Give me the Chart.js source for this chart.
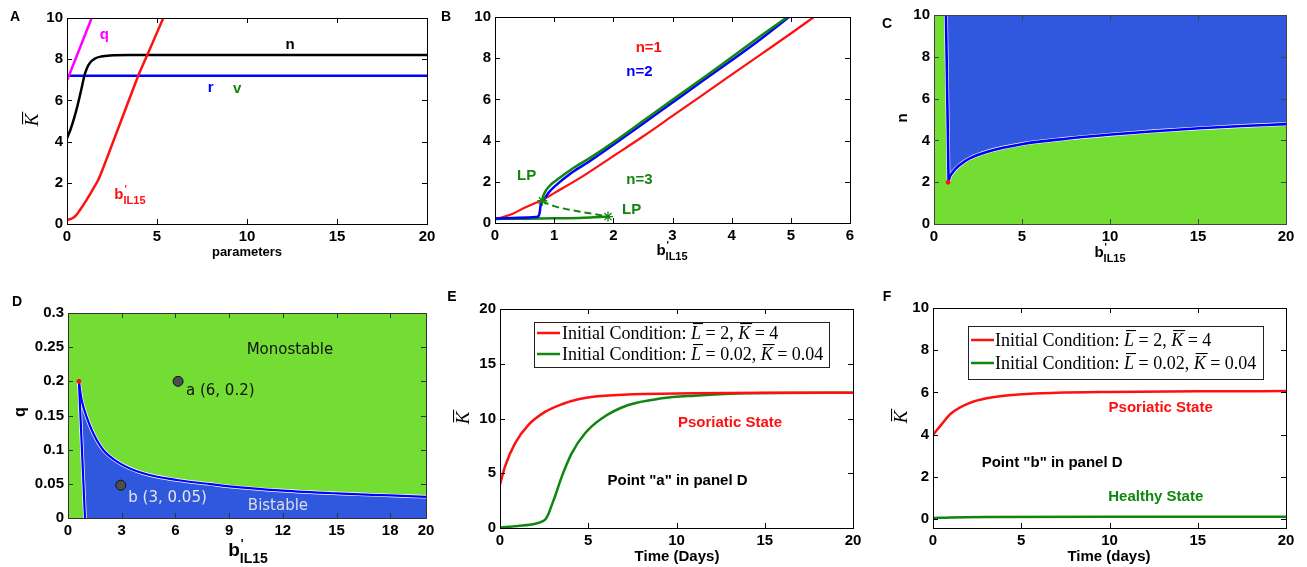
<!DOCTYPE html>
<html lang="en">
<head>
    <meta charset="UTF-8">
    <title>IL15 bifurcation panels</title>
    <script src="https://cdn.jsdelivr.net/npm/chart.js"></script>
    <style>
        html, body { margin: 0; padding: 0; background: #fff; }
        #wrap { position: relative; width: 1307px; height: 567px; overflow: hidden; }
        canvas { position: absolute; }
    </style>
</head>
<body>
<div id="wrap">
    <canvas id="pA"></canvas>
    <canvas id="pB"></canvas>
    <canvas id="pC"></canvas>
    <canvas id="pD"></canvas>
    <canvas id="pE"></canvas>
    <canvas id="pF"></canvas>
</div>

<script>
// ---- panel A : K vs parameters
const aQx = [0.02, 1.37];
const aQy = [7.0, 10];
const aNx = [0, 0.2, 0.4, 0.6, 0.8, 0.95, 1.1, 1.3, 1.55, 1.9, 2.4, 3.5, 20];
const aNy = [4.16, 4.6, 5.15, 5.8, 6.55, 7.15, 7.55, 7.85, 8.03, 8.13, 8.18, 8.2, 8.2];
const aRx = [0, 20];
const aRy = [7.2, 7.2];
const aBx = [0, 0.3, 0.5, 0.72, 1.0, 1.2, 1.46, 1.74, 2.0, 2.39, 3.0, 3.5, 3.96, 4.46, 5.35];
const aBy = [0.19, 0.28, 0.42, 0.68, 1.05, 1.33, 1.72, 2.15, 2.7, 3.59, 5.0, 6.15, 7.2, 8.2, 10];
const aTicksX = [0, 5, 10, 15, 20];
const aTicksY = [0, 2, 4, 6, 8, 10];

// ---- panel B : K vs b'IL15 for n = 1, 2, 3
const bRx = [0, 0.15, 0.3, 0.5, 0.7, 0.82, 1.0, 1.5, 2.0, 2.5, 3.0, 3.5, 4.0, 4.5, 5.0, 5.39];
const bRy = [0.2, 0.3, 0.45, 0.74, 0.99, 1.15, 1.45, 2.3, 3.25, 4.2, 5.2, 6.2, 7.2, 8.2, 9.2, 10];
const bBx = [0, 0.4, 0.7, 0.74, 0.76, 0.77, 0.79, 0.83, 0.9, 1.0, 1.3, 1.6, 2.0, 2.5, 3.0, 3.5, 4.0, 4.5, 4.97];
const bBy = [0.22, 0.26, 0.29, 0.35, 0.6, 0.85, 1.0, 1.15, 1.45, 1.75, 2.45, 3.0, 3.8, 4.82, 5.85, 6.88, 7.9, 8.95, 10];
const bGx = [0.8, 0.82, 0.87, 0.95, 1.05, 1.3, 1.6, 2.0, 2.5, 3.0, 3.5, 4.0, 4.5, 4.94];
const bGy = [1.1, 1.35, 1.62, 1.88, 2.1, 2.62, 3.15, 3.92, 4.95, 5.98, 7.0, 8.05, 9.1, 10];
const bGlowx = [0, 0.5, 1.0, 1.5, 1.91];
const bGlowy = [0.2, 0.21, 0.23, 0.26, 0.31];
const bGdashx = [0.8, 0.9, 1.0, 1.15, 1.3, 1.6, 1.91];
const bGdashy = [1.08, 0.92, 0.82, 0.71, 0.62, 0.47, 0.31];
const bLPx = [0.8, 1.91];
const bLPy = [1.08, 0.31];
const bTicksX = [0, 1, 2, 3, 4, 5, 6];
const bTicksY = [0, 2, 4, 6, 8, 10];

// ---- panel C : n vs b'IL15 region
const cVx = [0.68, 0.83];
const cVy = [10, 2.01];
const cCx = [0.83, 0.87, 1.02, 1.5, 2.03, 3.03, 5.04, 7.5, 10.06, 12.5, 15.06, 17.5, 20];
const cCy = [2.01, 2.19, 2.43, 2.85, 3.14, 3.46, 3.83, 4.08, 4.28, 4.44, 4.58, 4.69, 4.78];
const cDotx = [0.8];
const cDoty = [2.0];
const cTicksX = [0, 5, 10, 15, 20];
const cTicksY = [0, 2, 4, 6, 8, 10];

// ---- panel D : q vs b'IL15 region
const dCx = [0.61, 0.76, 1.04, 1.41, 1.97, 2.9, 4.2, 6.07, 7.93, 9, 12, 15, 18, 20];
const dCy = [0.199, 0.173, 0.148, 0.124, 0.0996, 0.080, 0.0654, 0.0556, 0.0497, 0.0462, 0.040, 0.036, 0.033, 0.031];
const dLx = [0.61, 0.95];
const dLy = [0.2, 0];
const dPx = [6.15, 2.95];
const dPy = [0.2, 0.048];
const dDotx = [0.61];
const dDoty = [0.2];
const dTicksX = [0, 3, 6, 9, 12, 15, 18, 20];
const dTicksY = [0, 0.05, 0.1, 0.15, 0.2, 0.25, 0.3];

// ---- panel E : time course at point a
const eRx = [0, 0.28, 0.85, 1.6, 2.55, 3.5, 4.44, 5.38, 7.27, 11.0, 15, 20];
const eRy = [3.95, 5.6, 7.73, 9.4, 10.6, 11.3, 11.75, 12.0, 12.2, 12.3, 12.35, 12.35];
const eGx = [0, 1.0, 2.0, 2.4, 2.6, 2.75, 2.9, 3.12, 3.5, 4.06, 4.82, 5.76, 7.27, 9.16, 11, 14, 20];
const eGy = [0.04, 0.18, 0.38, 0.6, 0.85, 1.3, 1.95, 2.9, 4.69, 6.82, 8.65, 10.0, 11.23, 11.84, 12.08, 12.3, 12.35];
const eTicksX = [0, 5, 10, 15, 20];
const eTicksY = [0, 5, 10, 15, 20];

// ---- panel F : time course at point b
const fRx = [0, 0.53, 1.02, 2.02, 3.04, 5.02, 7, 10, 15, 20];
const fRy = [3.98, 4.53, 5.0, 5.48, 5.72, 5.91, 5.98, 6.02, 6.05, 6.06];
const fGx = [0, 1, 3, 10, 20];
const fGy = [0.04, 0.07, 0.09, 0.1, 0.1];
const fTicksX = [0, 5, 10, 15, 20];
const fTicksY = [0, 2, 4, 6, 8, 10];

const legendRed = ['Initial Condition: ', 'L', ' = 2, ', 'K', ' = 4'];
const legendGreen = ['Initial Condition: ', 'L', ' = 0.02, ', 'K', ' = 0.04'];

const SANS = '"Liberation Sans", Arial, sans-serif';
const SERIF = '"Liberation Serif", "DejaVu Serif", serif';
const DJ = '"DejaVu Sans", sans-serif';
const RED = '#ff1010', BLUE = '#0000ff', GREEN = '#108510', MAG = '#ff00ff';
const FILLG = '#73dd33', FILLB = '#3058de';

function pts(xs, ys) { return xs.map((x, i) => ({ x: x, y: ys[i] })); }
function line(xs, ys, color, w, more) {
    return Object.assign({ data: pts(xs, ys), borderColor: color, borderWidth: w, pointRadius: 0,
        fill: false, tension: 0 }, more || {});
}
const smooth = { cubicInterpolationMode: 'monotone' };

function rich(c, x, y, parts, color, align) {
    let w = 0;
    parts.forEach(p => { c.font = p.f; if (p.adv !== false) w += c.measureText(p.t).width; });
    let cx = align === 'center' ? x - w / 2 : x;
    c.fillStyle = color; c.textAlign = 'left'; c.textBaseline = 'alphabetic';
    parts.forEach(p => {
        c.font = p.f;
        const m = c.measureText(p.t);
        c.fillText(p.t, cx + (p.dx || 0), y + (p.dy || 0));
        if (p.over) c.fillRect(cx + (p.ox || 0), y - m.actualBoundingBoxAscent - 3, m.width, 1.1);
        if (p.adv !== false) cx += m.width;
    });
}
function bLab(s) {
    return [{ t: 'b', f: 'bold ' + s + 'px ' + SANS },
        { t: '\'', f: 'bold ' + Math.round(s * 0.65) + 'px ' + SANS, dy: -s * 0.42, dx: 1, adv: false },
        { t: 'IL15', f: 'bold ' + Math.round(s * 0.72) + 'px ' + SANS, dy: s * 0.35 }];
}
function kBar(s) { return [{ t: 'K', f: 'italic ' + s + 'px ' + SERIF, over: true, ox: 2 }]; }
function legParts(words) {
    return words.map((t, i) => (i % 2 === 1)
        ? { t: t, f: 'italic 18px ' + SERIF, over: true, ox: 2 }
        : { t: t, f: '18px ' + SERIF });
}

function deco(cfg, box) {
    const put = (c, o, fn) => {
        c.save();
        c.translate(o.x - box[0], o.y - box[1]);
        if (o.rot) c.rotate(-Math.PI / 2);
        fn();
        c.restore();
    };
    return {
        id: 'deco',
        beforeDatasetsDraw(chart) {
            if (!cfg.bg) return;
            const a = chart.chartArea, c = chart.ctx;
            c.save(); c.fillStyle = cfg.bg;
            c.fillRect(a.left, a.top, a.right - a.left, a.bottom - a.top);
            c.restore();
        },
        afterDatasetsDraw(chart) {
            const c = chart.ctx, a = chart.chartArea, sx = chart.scales.x, sy = chart.scales.y;
            c.save();
            c.strokeStyle = cfg.frame || '#000'; c.lineWidth = 1;
            c.beginPath();
            sx.ticks.forEach(t => {
                const p = Math.round(sx.getPixelForValue(t.value)) + 0.5;
                c.moveTo(p, a.bottom); c.lineTo(p, a.bottom - 5);
                c.moveTo(p, a.top); c.lineTo(p, a.top + 5);
            });
            sy.ticks.forEach(t => {
                const p = Math.round(sy.getPixelForValue(t.value)) + 0.5;
                c.moveTo(a.left, p); c.lineTo(a.left + 5, p);
                c.moveTo(a.right, p); c.lineTo(a.right - 5, p);
            });
            c.stroke();
            c.strokeRect(Math.round(a.left) + 0.5, Math.round(a.top) + 0.5,
                Math.round(a.right - a.left), Math.round(a.bottom - a.top));
            (cfg.labels || []).forEach(l => {
                const x = sx.getPixelForValue(l.x), y = sy.getPixelForValue(l.y);
                if (l.parts) { rich(c, x, y, l.parts, l.c, l.align || 'left'); return; }
                c.font = l.f || 'bold 15px ' + SANS; c.fillStyle = l.c;
                c.textAlign = l.align || 'center'; c.textBaseline = 'middle';
                c.fillText(l.t, x, y);
            });
            const L = cfg.legend;
            if (L) {
                const ox = L.x - box[0], oy = L.y - box[1];
                c.fillStyle = '#fff'; c.fillRect(ox, oy, L.w, L.h);
                c.strokeStyle = '#222'; c.lineWidth = 1; c.strokeRect(ox + 0.5, oy + 0.5, L.w, L.h);
                L.rows.forEach((r, i) => {
                    const y = L.ry[i] - box[1];
                    c.strokeStyle = r.color; c.lineWidth = 2.5;
                    c.beginPath(); c.moveTo(L.l0 - box[0], y); c.lineTo(L.l1 - box[0], y); c.stroke();
                    rich(c, L.tx - box[0], y + 6, legParts(r.words), '#000', 'left');
                });
            }
            c.restore();
        },
        afterDraw(chart) {
            const c = chart.ctx;
            [cfg.xTitle, cfg.yTitle].forEach(o => {
                if (!o) return;
                put(c, o, () => {
                    if (o.parts) rich(c, 0, o.base || 5, o.parts, '#000', 'center');
                    else {
                        c.font = o.f || 'bold 15px ' + SANS; c.fillStyle = '#000';
                        c.textAlign = 'center'; c.textBaseline = 'middle'; c.fillText(o.t, 0, 0);
                    }
                });
            });
            put(c, cfg.letter, () => {
                c.font = 'bold 14px ' + SANS; c.fillStyle = '#000';
                c.textAlign = 'center'; c.textBaseline = 'middle'; c.fillText(cfg.letter.t, 0, 0);
            });
        }
    };
}

function makeChart(id, box, plot, cfg) {
    const cv = document.getElementById(id);
    cv.width = box[2]; cv.height = box[3];
    cv.style.left = box[0] + 'px'; cv.style.top = box[1] + 'px';
    const XH = 20;
    const fmt = v => String(Math.round(v * 1000) / 1000);
    const axis = (ticks, min, max, fit) => ({
        type: 'linear', min: min, max: max,
        afterBuildTicks: s => { s.ticks = ticks.map(v => ({ value: v })); },
        afterFit: fit,
        ticks: { font: { family: SANS, size: cfg.tickSize || 15, weight: 'bold' }, color: '#000',
            padding: 4, maxRotation: 0, autoSkip: false, callback: fmt },
        grid: { display: false, drawTicks: false },
        border: { display: false }
    });
    cfg.datasets.forEach((d, i) => { d.order = -i; });
    return new Chart(cv, {
        type: 'line',
        data: { datasets: cfg.datasets },
        options: {
            responsive: false, animation: false,
            layout: { padding: { left: 0, top: plot[1] - box[1], right: box[0] + box[2] - plot[2],
                bottom: box[1] + box[3] - plot[3] - XH } },
            plugins: { legend: { display: false }, tooltip: { enabled: false } },
            scales: {
                x: axis(cfg.xt, cfg.xr[0], cfg.xr[1], s => { s.height = XH; }),
                y: axis(cfg.yt, cfg.yr[0], cfg.yr[1], s => { s.width = plot[0] - box[0]; })
            }
        },
        plugins: [deco(cfg, box)]
    });
}

// ---------- A
makeChart('pA', [0, 0, 440, 280], [67, 18, 427, 224], {
    xr: [0, 20], yr: [0, 10], xt: aTicksX, yt: aTicksY,
    datasets: [
        line(aRx, aRy, BLUE, 2.5),
        line(aNx, aNy, '#000', 2.5, smooth),
        line(aQx, aQy, MAG, 2.5),
        line(aBx, aBy, RED, 2.5, smooth)
    ],
    labels: [
        { x: 2.07, y: 9.17, t: 'q', c: MAG },
        { x: 12.4, y: 8.72, t: 'n', c: '#000' },
        { x: 7.98, y: 6.59, t: 'r', c: BLUE },
        { x: 9.46, y: 6.55, t: 'v', c: GREEN },
        { x: 2.63, y: 1.21, parts: bLab(15), c: RED }
    ],
    xTitle: { x: 247, y: 252, t: 'parameters', f: 'bold 13px ' + SANS },
    yTitle: { x: 32, y: 120, rot: true, parts: kBar(19), base: 6 },
    letter: { x: 15, y: 17, t: 'A' }
});

// ---------- B
makeChart('pB', [440, 0, 430, 280], [495, 17, 850, 223], {
    xr: [0, 6], yr: [0, 10], xt: bTicksX, yt: bTicksY,
    datasets: [
        line(bRx, bRy, RED, 2.2, smooth),
        line(bGlowx, bGlowy, GREEN, 2.5, smooth),
        line(bBx, bBy, BLUE, 2.5, smooth),
        line(bGx, bGy, GREEN, 2.5, smooth),
        line(bGdashx, bGdashy, GREEN, 2, Object.assign({ borderDash: [7, 4] }, smooth)),
        line(bLPx, bLPy, GREEN, 1.3, { showLine: false, pointRadius: 5, pointStyle: 'star',
            pointBorderColor: GREEN, pointBorderWidth: 1.3 })
    ],
    labels: [
        { x: 2.6, y: 8.48, t: 'n=1', c: RED },
        { x: 2.44, y: 7.35, t: 'n=2', c: BLUE },
        { x: 2.44, y: 2.09, t: 'n=3', c: GREEN },
        { x: 0.535, y: 2.28, t: 'LP', c: GREEN },
        { x: 2.31, y: 0.63, t: 'LP', c: GREEN }
    ],
    xTitle: { x: 672, y: 250, parts: bLab(15) },
    letter: { x: 446, y: 17, t: 'B' }
});

// ---------- C
makeChart('pC', [870, 0, 437, 280], [934, 15, 1286, 224], {
    xr: [0, 20], yr: [0, 10], xt: cTicksX, yt: cTicksY, bg: FILLG, frame: '#444',
    datasets: [
        line(cVx.concat(cCx.slice(1)), cVy.concat(cCy.slice(1)), 'rgba(0,0,0,0)', 0,
            { fill: 'end', backgroundColor: FILLB }),
        line(cVx, cVy, '#fff', 3.8),
        line(cCx, cCy, '#fff', 3.8, smooth),
        line(cVx, cVy, BLUE, 2.6),
        line(cCx, cCy, BLUE, 2.6, smooth),
        line(cDotx, cDoty, RED, 1, { showLine: false, pointRadius: 2, pointBackgroundColor: RED })
    ],
    xTitle: { x: 1110, y: 252, parts: bLab(15) },
    yTitle: { x: 903, y: 118, rot: true, t: 'n', f: 'bold 15px ' + SANS },
    letter: { x: 887, y: 24, t: 'C' }
});

// ---------- D
makeChart('pD', [0, 280, 440, 287], [68, 313, 426, 518], {
    xr: [0, 20], yr: [0, 0.3], xt: dTicksX, yt: dTicksY, bg: FILLG, frame: '#333',
    datasets: [
        line(dCx, dCy, 'rgba(0,0,0,0)', 0, Object.assign({ fill: 'start', backgroundColor: FILLB }, smooth)),
        line(dLx, dLy, 'rgba(0,0,0,0)', 0, { fill: 'start', backgroundColor: FILLG }),
        line(dCx, dCy, '#fff', 3.6, smooth),
        line(dLx, dLy, '#fff', 3.6),
        line(dCx, dCy, BLUE, 2.2, smooth),
        line(dLx, dLy, BLUE, 2.2),
        line(dDotx, dDoty, RED, 1, { showLine: false, pointRadius: 2, pointBackgroundColor: RED }),
        line(dPx, dPy, '#111', 1, { showLine: false, pointRadius: 5, pointBackgroundColor: '#4d4d4d',
            pointBorderColor: '#111', pointBorderWidth: 1 })
    ],
    labels: [
        { x: 12.4, y: 0.246, t: 'Monostable', c: '#111', f: '15px ' + DJ },
        { x: 6.59, y: 0.186, t: 'a (6, 0.2)', c: '#111', f: '15px ' + DJ, align: 'left' },
        { x: 3.37, y: 0.0288, t: 'b (3, 0.05)', c: '#e6e6e6', f: '15px ' + DJ, align: 'left' },
        { x: 11.73, y: 0.0176, t: 'Bistable', c: '#dddddd', f: '15px ' + DJ }
    ],
    xTitle: { x: 248, y: 551, parts: bLab(19) },
    yTitle: { x: 21, y: 412, rot: true, t: 'q', f: 'bold 16px ' + SANS },
    letter: { x: 17, y: 302, t: 'D' }
});

// ---------- E
makeChart('pE', [440, 280, 430, 287], [500, 309, 853, 528], {
    xr: [0, 20], yr: [0, 20], xt: eTicksX, yt: eTicksY,
    datasets: [
        line(eGx, eGy, GREEN, 2.5, smooth),
        line(eRx, eRy, RED, 2.5, smooth)
    ],
    labels: [
        { x: 13.03, y: 9.56, t: 'Psoriatic State', c: RED },
        { x: 10.06, y: 4.29, t: 'Point "a" in panel D', c: '#000' }
    ],
    legend: { x: 534, y: 322, w: 295, h: 45, ry: [333, 354], l0: 537, l1: 560, tx: 562,
        rows: [{ color: RED, words: legendRed }, { color: GREEN, words: legendGreen }] },
    xTitle: { x: 677, y: 557, t: 'Time (Days)', f: 'bold 15px ' + SANS },
    yTitle: { x: 463, y: 418, rot: true, parts: kBar(19), base: 6 },
    letter: { x: 452, y: 297, t: 'E' }
});

// ---------- F
makeChart('pF', [870, 280, 437, 287], [933, 308, 1286, 528], {
    xr: [0, 20], yr: [-0.43, 10], xt: fTicksX, yt: fTicksY,
    datasets: [
        line(fGx, fGy, GREEN, 2.5, smooth),
        line(fRx, fRy, RED, 2.5, smooth)
    ],
    labels: [
        { x: 12.9, y: 5.25, t: 'Psoriatic State', c: RED },
        { x: 6.75, y: 2.64, t: 'Point "b" in panel D', c: '#000' },
        { x: 12.62, y: 1.06, t: 'Healthy State', c: GREEN }
    ],
    legend: { x: 968, y: 326, w: 295, h: 53, ry: [340, 363], l0: 971, l1: 994, tx: 995,
        rows: [{ color: RED, words: legendRed }, { color: GREEN, words: legendGreen }] },
    xTitle: { x: 1109, y: 557, t: 'Time (days)', f: 'bold 15px ' + SANS },
    yTitle: { x: 901, y: 417, rot: true, parts: kBar(19), base: 6 },
    letter: { x: 887, y: 297, t: 'F' }
});
</script>
</body>
</html>
